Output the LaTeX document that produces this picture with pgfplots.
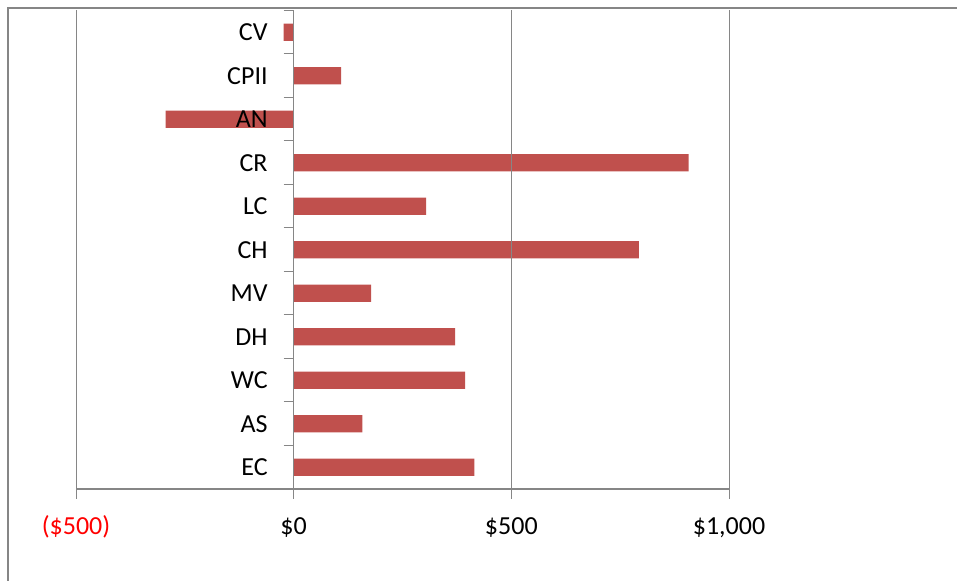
\documentclass[border=0pt]{standalone}
\usepackage{pgfplots}
\pgfplotsset{compat=1.18}
\usepackage{fontspec}
\setmainfont{Carlito}
\definecolor{barred}{HTML}{C0504D}
\definecolor{gridgray}{HTML}{868686}
\pgfplotsset{
  layers/labelsontop/.define layer set={axis grid,axis background,axis ticks,axis lines,axis tick labels,pre main,main,axis descriptions,axis foreground}{},
}
\begin{document}
\begin{tikzpicture}
\begin{axis}[
  set layers=labelsontop,
  scale only axis,
  width=326.5pt, height=239.25pt,
  anchor=south west, at={(0pt,0pt)},
  xbar, bar width=0.4,
  xmin=-500, xmax=1000,
  ymin=-0.5, ymax=10.5,
  axis x line=bottom,
  axis y line=middle,
  axis line style={-, gridgray, line width=0.75pt},
  x axis line style={line width=1pt},
  xtick={-500,0,500,1000},
  xticklabels={{\textcolor{red}{(\$500)}},{\$0},{\$500},{\$1,000}},
  xtick align=outside,
  major x tick style={gridgray, line width=0.5pt},
  major tick length=5pt,
  xmajorgrids,
  grid style={gridgray, line width=0.5pt},
  xticklabel style={font=\fontsize{13}{15}\selectfont, text height=8.5pt, text depth=2pt, yshift=-5.5pt},
  ytick={0,...,10},
  yticklabels={EC,AS,WC,DH,MV,CH,LC,CR,AN,CPII,CV},
  major y tick style={draw=none},
  minor ytick={-0.5,0.5,...,10.5},
  minor y tick style={gridgray, line width=0.5pt, xshift=-2.5pt},
  minor tick length=5pt,
  yticklabel style={font=\fontsize{13}{15}\selectfont, anchor=east, xshift=-7pt},
  clip=false,
]
\addplot[on layer=axis background, fill=barred, draw=none] coordinates {
  (415,0) (158,1) (394,2) (371,3) (178,4) (793,5) (304,6) (907,7) (-294,8) (109,9) (-23,10)
};
\end{axis}
\draw[gridgray, line width=0.75pt] (-34pt,-80pt) -- (-34pt,240.5pt) -- (480pt,240.5pt);
\pgfresetboundingbox
\useasboundingbox (-38pt,-46pt) rectangle (440.5pt,244.5pt);
\end{tikzpicture}
\end{document}
